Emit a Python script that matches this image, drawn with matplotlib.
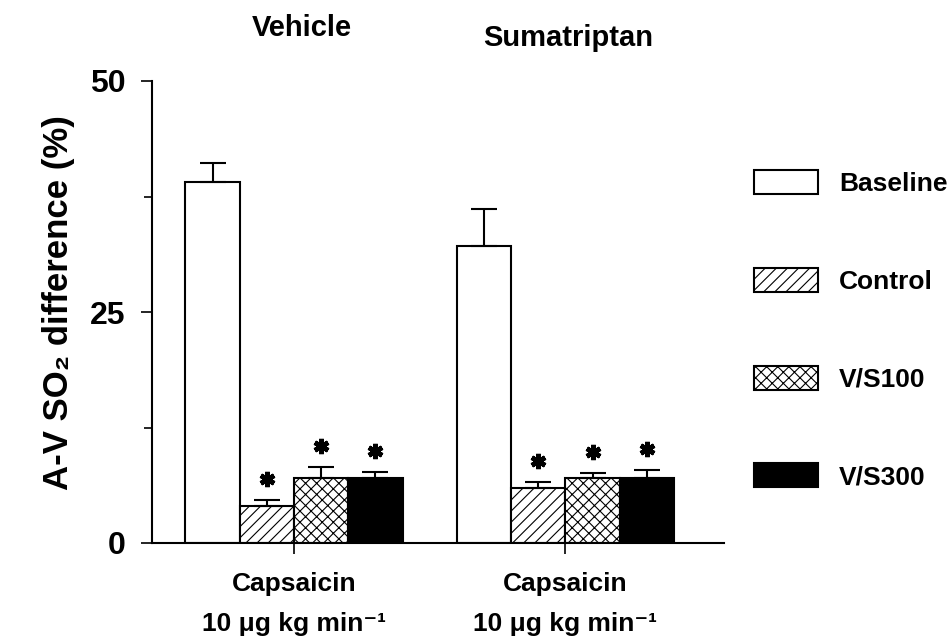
import matplotlib

matplotlib.use("Agg")

import matplotlib.pyplot as plt
import numpy as np
from matplotlib.markers import MarkerStyle

# data
groups = ["Vehicle", "Sumatriptan"]
group_ticklabels = ["Capsaicin\n10 \u03bcg kg min\u207b\u00b9", "Capsaicin\n10 \u03bcg kg min\u207b\u00b9"]
series = ["Baseline", "Control", "V/S100", "V/S300"]
vehicle_mean = [39.1, 4.0, 7.0, 7.0]
vehicle_sem = [2.0, 0.6, 1.2, 0.65]
sumatriptan_mean = [32.1, 5.9, 7.0, 7.0]
sumatriptan_sem = [4.0, 0.7, 0.6, 0.9]
significant = [[False, True, True, True], [False, True, True, True]]

plt.rcParams["font.family"] = ["Liberation Sans", "DejaVu Sans"]
plt.rcParams["font.weight"] = "bold"
plt.rcParams["hatch.linewidth"] = 0.8

fills = ["white", "white", "white", "black"]
hatches = [None, "///", "xxx", None]

fig = plt.figure(figsize=(9.51, 6.39), dpi=100)
ax = fig.add_axes([152 / 951, 96 / 639, 572 / 951, 462 / 639])

means = [vehicle_mean, sumatriptan_mean]
sems = [vehicle_sem, sumatriptan_sem]
centers = np.array([0.0, 5.0])
offsets = np.arange(len(series)) - (len(series) - 1) / 2
star = MarkerStyle((6, 2, 0), capstyle="butt")

for i, name in enumerate(series):
    xs = centers + offsets[i]
    ys = [means[g][i] for g in range(len(groups))]
    es = [sems[g][i] for g in range(len(groups))]
    ax.bar(xs, ys, width=1.0, color=fills[i], edgecolor="black", linewidth=1.5,
           hatch=hatches[i], label=name, zorder=2)
    ax.errorbar(xs, ys, yerr=[np.zeros(len(es)), es], fmt="none", ecolor="black",
                elinewidth=1.5, capsize=9.5, capthick=1.5, zorder=3)
    for g in range(len(groups)):
        if significant[g][i]:
            ax.plot(xs[g], ys[g] + es[g] + 2.3, marker=star, markersize=11,
                    markeredgewidth=3.4, color="black", zorder=4)

for g, name in enumerate(groups):
    ax.text(centers[g] + (0.15 if g == 0 else 0.05), 55.7 if g == 0 else 54.6, name,
            ha="center", va="center", fontsize=21, fontweight="bold", clip_on=False)

ax.set_xlim(-2.615, 7.92)
ax.set_ylim(0, 50)
ax.set_yticks([0, 25, 50])
ax.set_yticks([12.5, 37.5], minor=True)
ax.set_xticks(centers)
ax.set_xticklabels(group_ticklabels, fontsize=19, fontweight="bold", linespacing=1.85)
ax.tick_params(axis="y", which="major", length=8, width=1.2, labelsize=23, pad=11)
ax.tick_params(axis="y", which="minor", length=6, width=1.2)
ax.tick_params(axis="x", length=8, width=1.2, pad=13)
ax.spines["top"].set_visible(False)
ax.spines["right"].set_visible(False)
ax.spines["left"].set_linewidth(1.5)
ax.spines["bottom"].set_linewidth(1.5)
ax.set_ylabel("A-V SO\u2082 difference (%)", fontsize=25, fontweight="bold")
ax.yaxis.set_label_coords(-0.135, 0.52)

ax.legend(loc="upper left", bbox_to_anchor=(754 / 951, 1 - 170 / 639),
          bbox_transform=fig.transFigure, frameon=False, fontsize=19,
          handlelength=2.42, handleheight=1.02, handletextpad=0.8,
          labelspacing=2.72, borderpad=0, borderaxespad=0)

fig.savefig("out.png", dpi=100)
